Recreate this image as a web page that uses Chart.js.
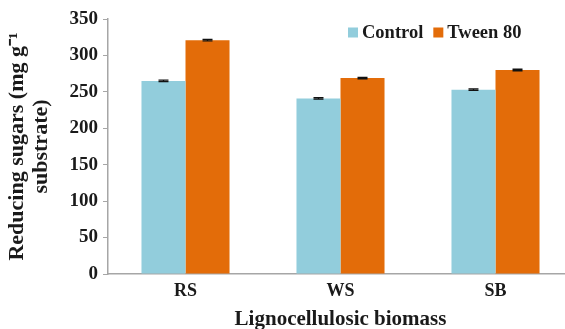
<!DOCTYPE html>
<html>
<head>
<meta charset="utf-8">
<script src="https://cdn.jsdelivr.net/npm/chart.js@4"></script>
<style>
  html, body { margin: 0; padding: 0; background: #fff; overflow: hidden; }
  #wrap { width: 578px; height: 329px; }
</style>
</head>
<body>
<div id="wrap"><canvas id="sugarChart"></canvas></div>
<script>
const categories = ['RS', 'WS', 'SB'];
const controlValues = [265, 241, 253];
const tweenValues = [321, 269, 280];
const controlErrors = [1, 1, 1];
const tweenErrors = [1, 1, 1];
const yTicks = [0, 50, 100, 150, 200, 250, 300, 350];

const serif = "'Liberation Serif', 'Times New Roman', serif";

// tiny error bar caps on top of each bar
const errorBars = {
    id: 'errorBars',
    afterDatasetsDraw(chart) {
        const ctx = chart.ctx;
        const y = chart.scales.y;
        const errs = [controlErrors, tweenErrors];
        ctx.save();
        ctx.strokeStyle = '#111';
        ctx.lineWidth = 1.3;
        chart.data.datasets.forEach((ds, i) => {
            chart.getDatasetMeta(i).data.forEach((bar, j) => {
                const v = ds.data[j];
                const top = y.getPixelForValue(v + errs[i][j]);
                const bot = y.getPixelForValue(v - errs[i][j]);
                ctx.beginPath();
                ctx.moveTo(bar.x, top); ctx.lineTo(bar.x, bot);
                ctx.moveTo(bar.x - 5, top); ctx.lineTo(bar.x + 5, top);
                ctx.moveTo(bar.x - 5, bot); ctx.lineTo(bar.x + 5, bot);
                ctx.stroke();
            });
        });
        ctx.restore();
    }
};

// legend drawn inside the plot, top right
const innerLegend = {
    id: 'innerLegend',
    afterDraw(chart) {
        const ctx = chart.ctx;
        ctx.save();
        ctx.font = 'bold 18.5px ' + serif;
        ctx.textBaseline = 'middle';
        let x = 348;
        const yMid = 32.5;
        chart.data.datasets.forEach(ds => {
            ctx.fillStyle = ds.backgroundColor;
            ctx.fillRect(x, yMid - 5, 10, 10);
            ctx.fillStyle = '#1a1a1a';
            ctx.fillText(ds.label, x + 14, yMid + 1);
            x += 14 + ctx.measureText(ds.label).width + 10;
        });
        ctx.restore();
    }
};

new Chart(document.getElementById('sugarChart'), {
    type: 'bar',
    data: {
        labels: categories,
        datasets: [{
            label: 'Control',
            data: controlValues,
            backgroundColor: '#92CDDC',
            barPercentage: 1,
            categoryPercentage: 0.568
        }, {
            label: 'Tween 80',
            data: tweenValues,
            backgroundColor: '#E36C09',
            barPercentage: 1,
            categoryPercentage: 0.568
        }]
    },
    options: {
        responsive: true,
        maintainAspectRatio: false,
        animation: false,
        layout: { padding: { top: 19, right: 5, left: 5, bottom: 0 } },
        plugins: {
            legend: { display: false },
            tooltip: { enabled: false }
        },
        scales: {
            x: {
                afterFit(axis) { axis.height = 55; },
                grid: { display: false, drawTicks: false },
                border: { color: '#a6a6a6', width: 1.5 },
                ticks: { color: '#1a1a1a', font: { family: serif, size: 18, weight: 'bold' }, padding: 7 },
                title: {
                    display: true,
                    text: 'Lignocellulosic biomass',
                    color: '#1a1a1a',
                    font: { family: serif, size: 21, weight: 'bold', lineHeight: 0.85 },
                    padding: { top: 0, bottom: 0 }
                }
            },
            y: {
                min: 0,
                max: 350,
                afterFit(axis) { axis.width = 103; },
                afterBuildTicks(axis) { axis.ticks = yTicks.map(v => ({ value: v })); },
                grid: { display: true, drawOnChartArea: false, tickLength: 5, color: '#a6a6a6' },
                border: { color: '#a6a6a6', width: 1.5 },
                ticks: { color: '#1a1a1a', font: { family: serif, size: 19, weight: 'bold' }, padding: 5 },
                title: {
                    display: true,
                    text: ['Reducing sugars (mg g\u207B\u00B9', 'substrate)'],
                    color: '#1a1a1a',
                    font: { family: serif, size: 22, weight: 'bold', lineHeight: 1.1 },
                    padding: { top: 0, bottom: 0 }
                }
            }
        }
    },
    plugins: [errorBars, innerLegend]
});
</script>
</body>
</html>
